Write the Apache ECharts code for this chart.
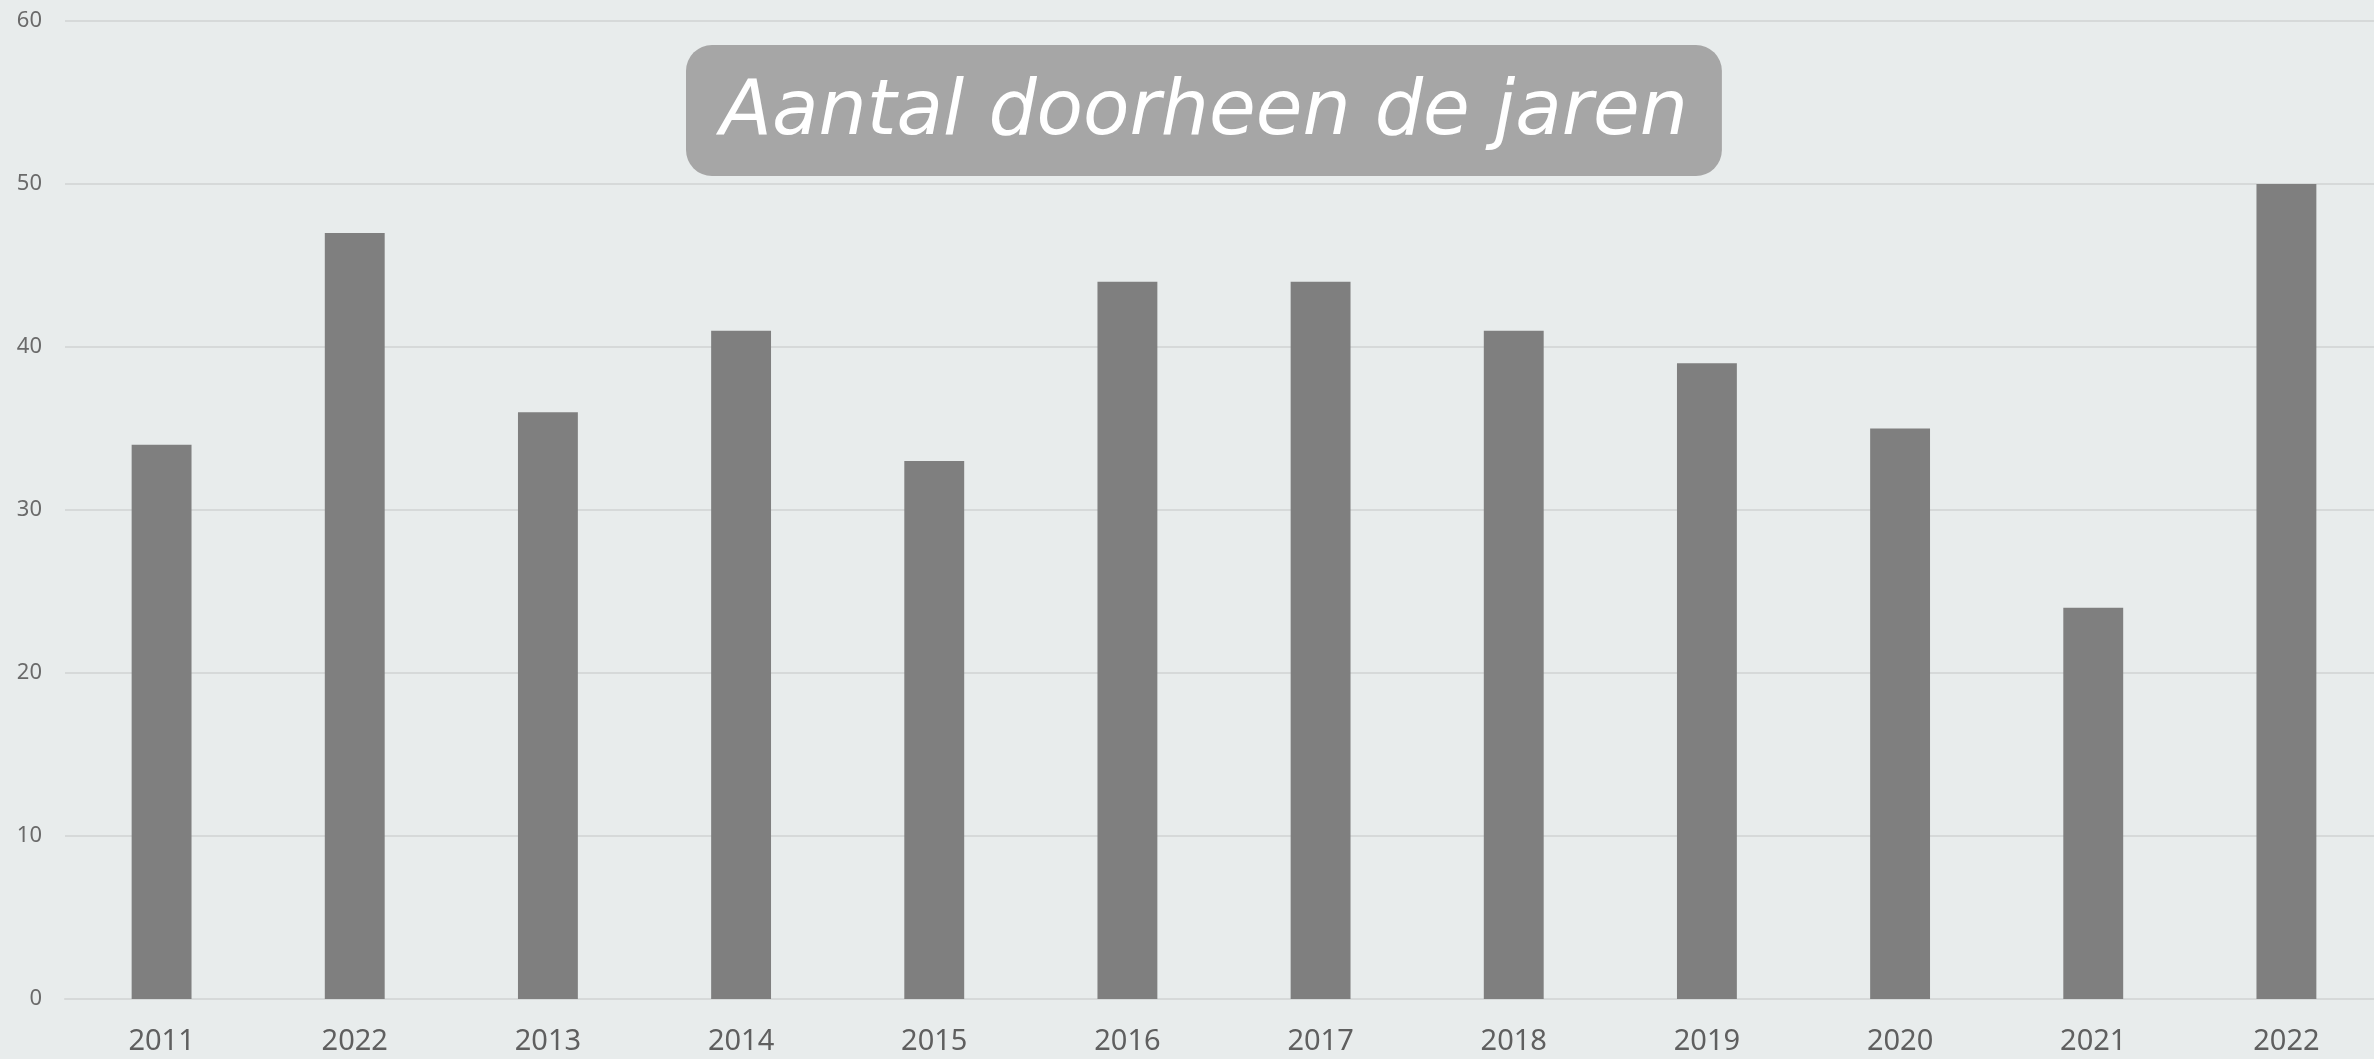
<!DOCTYPE html>
<html>
<head>
<meta charset="utf-8">
<script src="https://cdn.jsdelivr.net/npm/echarts@6/dist/echarts.min.js"></script>
<style>
  html, body { margin: 0; padding: 0; background: #e8ecec; }
  #chart { width: 2374px; height: 1059px; }
</style>
</head>
<body>
<div id="chart"></div>
<script>
// jaren zoals op de as (tweede label staat echt als 2022)
const years = ['2011', '2022', '2013', '2014', '2015', '2016', '2017', '2018', '2019', '2020', '2021', '2022'];
const counts = [34, 47, 36, 41, 33, 44, 44, 41, 39, 35, 24, 50];
const yTicks = [0, 10, 20, 30, 40, 50, 60];

const chart = echarts.init(document.getElementById('chart'));
chart.setOption({
  backgroundColor: '#e8ecec',
  animation: false,
  title: {
    text: 'Aantal doorheen de jaren',
    left: 686, top: 45,
    padding: [22, 34, 14, 34],
    backgroundColor: '#a6a6a6',
    borderRadius: 26,
    textStyle: {
      color: '#ffffff', fontStyle: 'italic', fontWeight: 'normal',
      fontFamily: 'DejaVu Sans', fontSize: 76, lineHeight: 95,
    },
  },
  grid: { left: 65, width: 2318, top: 21, bottom: 60, outerBoundsMode: 'none' },
  xAxis: {
    type: 'category', data: years,
    axisTick: { show: false },
    axisLine: { lineStyle: { color: '#d6d9d9', width: 2 } },
    axisLabel: { color: '#5f5f5f', fontSize: 29, fontFamily: 'Noto Sans', margin: 28 },
  },
  yAxis: {
    type: 'value', min: yTicks[0], max: yTicks[yTicks.length - 1], interval: 10,
    axisLine: { show: false },
    axisTick: { show: false },
    splitLine: { lineStyle: { color: '#d6d9d9', width: 2 } },
    axisLabel: { color: '#6a6a6a', fontSize: 22, fontFamily: 'Noto Sans', margin: 23 },
  },
  series: [{
    type: 'bar', data: counts, barWidth: '31%',
    itemStyle: { color: '#7f7f7f' },
  }],
});
</script>
</body>
</html>
